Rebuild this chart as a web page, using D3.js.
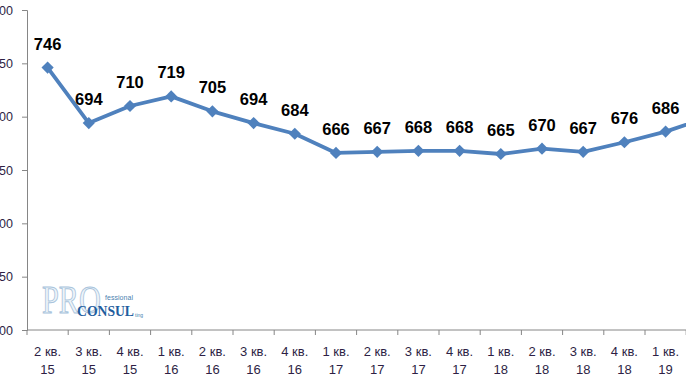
<!DOCTYPE html>
<html><head><meta charset="utf-8">
<script src="https://cdn.jsdelivr.net/npm/d3@7/dist/d3.min.js"></script>
<style>body{margin:0;background:#fff}svg{display:block}</style>
</head><body>
<script>
const quarters = ["2 кв.","3 кв.","4 кв.","1 кв.","2 кв.","3 кв.","4 кв.","1 кв.","2 кв.","3 кв.","4 кв.","1 кв.","2 кв.","3 кв.","4 кв.","1 кв.","2 кв."];
const years    = ["15","15","15","16","16","16","16","17","17","17","17","18","18","18","18","19","19"];
const values   = [746,694,710,719,705,694,684,666,667,668,668,665,670,667,676,686,699];
const yTicks   = [500,550,600,650,700,750,800];

const W = 686, H = 386;
const svg = d3.select("body").append("svg").attr("width", W).attr("height", H);

const x0 = 27, step = 41.2;
const x = d3.scalePoint().domain(d3.range(values.length))
  .range([x0 + step/2, x0 + step/2 + step*(values.length-1)]);
const y = d3.scaleLinear().domain([500, 800]).range([330, 10]);

// watermark logo
const logo = svg.append("g");
logo.append("text").attr("x", 42).attr("y", 313).text("PRO")
  .attr("font-family", "Liberation Serif, serif").attr("font-size", 39)
  .attr("textLength", 59).attr("lengthAdjust", "spacingAndGlyphs")
  .attr("fill", "#eef4f9").attr("stroke", "#a9c4dc").attr("stroke-width", 1);
logo.append("text").attr("x", 105).attr("y", 300).text("fessional")
  .attr("font-family", "Liberation Sans, sans-serif").attr("font-size", 7)
  .attr("textLength", 28).attr("fill", "#4a7fb0");
logo.append("text").attr("x", 77).attr("y", 316).text("CONSUL")
  .attr("font-family", "Liberation Serif, serif").attr("font-weight", "bold").attr("font-size", 15)
  .attr("textLength", 57).attr("lengthAdjust", "spacingAndGlyphs")
  .attr("fill", "#1f5e9e");
logo.append("text").attr("x", 135).attr("y", 317).text("ting")
  .attr("font-family", "Liberation Sans, sans-serif").attr("font-size", 5)
  .attr("fill", "#4a7fb0");

// y axis
const yAxis = d3.axisLeft(y).tickValues(yTicks).tickSize(5).tickPadding(9);
const gy = svg.append("g").attr("transform", `translate(${x0},0)`).call(yAxis);
gy.select(".domain").attr("stroke", "#868686");
gy.selectAll(".tick line").attr("stroke", "#868686");
gy.selectAll(".tick text").attr("font-family", "Liberation Sans, Arial, sans-serif")
  .attr("font-size", 12.5).attr("fill", "#2e1f45");

// x axis
const xAxis = svg.append("g");
xAxis.append("line").attr("x1", x0).attr("x2", W).attr("y1", y(500)).attr("y2", y(500))
  .attr("stroke", "#868686");
const tickXs = d3.range(values.length + 1).map(i => x0 + i * step);
xAxis.selectAll("line.tk").data(tickXs).join("line").attr("class","tk")
  .attr("x1", d => d).attr("x2", d => d).attr("y1", y(500)).attr("y2", y(500) + 5)
  .attr("stroke", "#868686");
const lbl = xAxis.selectAll("text.xl").data(values.map((v,i)=>i)).join("text").attr("class","xl")
  .attr("text-anchor", "middle")
  .attr("font-family", "Liberation Sans, Arial, sans-serif").attr("font-size", 13)
  .attr("fill", "#2e1f45");
lbl.append("tspan").attr("x", i => x(i)).attr("y", 356).text(i => quarters[i]);
lbl.append("tspan").attr("x", i => x(i)).attr("y", 374).text(i => years[i]);

// line
const line = d3.line().x((d,i) => x(i)).y(d => y(d));
svg.append("path").datum(values).attr("d", line)
  .attr("fill", "none").attr("stroke", "#4F81BD").attr("stroke-width", 3.8)
  .attr("stroke-linejoin", "round");

// markers
svg.selectAll("path.mk").data(values).join("path").attr("class","mk")
  .attr("d", d3.symbol().type(d3.symbolDiamond2).size(95))
  .attr("transform", (d,i) => `translate(${x(i)},${y(d)})`)
  .attr("fill", "#4F81BD");

// data labels
svg.selectAll("text.dl").data(values).join("text").attr("class","dl")
  .attr("x", (d,i) => x(i)).attr("y", d => y(d) - 18)
  .attr("text-anchor", "middle")
  .attr("font-family", "Liberation Sans, Arial, sans-serif").attr("font-weight", "bold")
  .attr("font-size", 16.5).attr("fill", "#000")
  .text(d => d);
</script>
</body></html>
